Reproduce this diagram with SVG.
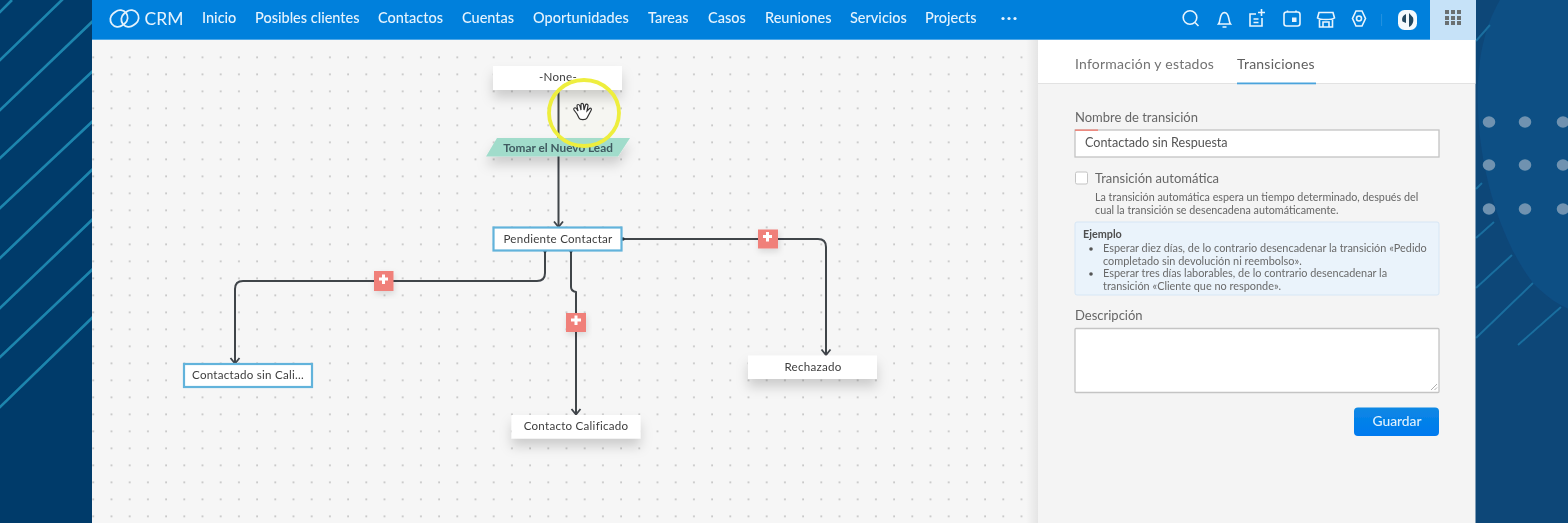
<svg xmlns="http://www.w3.org/2000/svg" width="1568" height="523" viewBox="0 0 1568 523">
<style>
text{font-family:"Lato","Liberation Sans",sans-serif}
.nav{font-size:14.5px;fill:#e6f3fd;font-weight:500}
.node{fill:#fff}
.sel{fill:#fff;stroke:#62b3db;stroke-width:2.2}
.nt{font-size:11.6px;fill:#3d3d3d;text-anchor:middle;letter-spacing:.25px}
.conn{fill:none;stroke:#3f444a;stroke-width:2;stroke-linejoin:round}
.add{fill:#f0807a}
.plus{fill:none;stroke:#fff;stroke-width:3}
.ic{fill:none;stroke:#e8f4fd;stroke-width:1.6}
.lbl{font-size:13px;fill:#666}
.help{font-size:10.75px;fill:#666}
.ex{font-size:10.9px;fill:#6a6a6a}
.fld{fill:#fff;stroke:#c4c4c4;stroke-width:1.3}
.st{stroke:#1f86ae;stroke-width:2.6;fill:none}
.st2{stroke:#1a6e9e;stroke-width:2;fill:none}
.rd{fill:#6f92b0}
</style>
<defs>
<pattern id="dots" width="18.2" height="17" patternUnits="userSpaceOnUse" patternTransform="translate(1.3 5.3)">
<circle cx="1" cy="1" r=".85" fill="#a8a8a8"/>
</pattern>
<filter id="soft" x="-2%" y="-5%" width="104%" height="110%"><feGaussianBlur stdDeviation=".5"/></filter>
<filter id="sh" x="-20%" y="-60%" width="140%" height="300%"><feDropShadow dx="0" dy="8" stdDeviation="6" flood-color="#000" flood-opacity=".17"/></filter>
<filter id="sh2" x="-30%" y="-30%" width="160%" height="170%"><feDropShadow dx="1" dy="3" stdDeviation="3" flood-color="#000" flood-opacity=".13"/></filter>
<linearGradient id="btn" x1="0" y1="0" x2="0" y2="1"><stop offset="0" stop-color="#0a88e4"/><stop offset="1" stop-color="#0079ef"/></linearGradient>
<linearGradient id="edge" x1="0" y1="0" x2="1" y2="0"><stop offset="0" stop-color="#000" stop-opacity="0"/><stop offset="1" stop-color="#000" stop-opacity=".07"/></linearGradient>
<marker id="arr" markerWidth="12" markerHeight="12" refX="8" refY="6" orient="auto" markerUnits="userSpaceOnUse" viewBox="0 0 12 12"><path d="M2.500 1.500L8 6L2.500 10.500" fill="none" stroke="#3f444a" stroke-width="1.800"/></marker>
</defs>
<g filter="url(#soft)">
<rect x="-20" y="-20" width="1608" height="563" fill="#043a6b"/>
<g id="left-stripes">
<path class="st" d="M-3 15L12 0M-3 63L65 -3M-3 113L95 19M-3 161L95 69M-3 211L95 119M-3 261L95 167M-3 311L95 217M-3 360L95 267M-3 410L95 315"/>
</g>
<g id="right-bg">
<rect x="1475" y="-20" width="113" height="563" fill="#0a4678"/>
<path d="M1500 -20V0C1482 30 1476 70 1478 110C1480 170 1500 240 1533 283C1545 295 1555 305 1590 318V-20Z" fill="#0a4f84"/>
<path class="st2" d="M1476 41L1490 25M1476 189L1482 183M1476 238L1494 222M1476 288L1512 255M1476 338L1533 283M1518 345L1561 307"/>
<ellipse class="rd" cx="1489" cy="122" rx="6.300" ry="5.700"/><ellipse class="rd" cx="1525" cy="122" rx="6.300" ry="5.700"/><ellipse class="rd" cx="1563" cy="122" rx="6.300" ry="5.700"/>
<ellipse class="rd" cx="1489" cy="165" rx="6.300" ry="5.700"/><ellipse class="rd" cx="1525" cy="165" rx="6.300" ry="5.700"/><ellipse class="rd" cx="1563" cy="165" rx="6.300" ry="5.700"/>
<ellipse class="rd" cx="1489" cy="209" rx="6.300" ry="5.700"/><ellipse class="rd" cx="1525" cy="209" rx="6.300" ry="5.700"/><ellipse class="rd" cx="1563" cy="209" rx="6.300" ry="5.700"/>
</g>
<g id="canvas">
<rect x="92" y="40" width="946" height="503" fill="#f6f6f6"/>
<rect x="92" y="50" width="946" height="468" fill="url(#dots)"/>
<rect x="1026" y="40" width="12" height="503" fill="url(#edge)"/>
</g>
<g id="side-panel">
<rect x="1038" y="40" width="437.500" height="503" fill="#f4f4f4"/>
<rect x="1038" y="40" width="437.500" height="43" fill="#fff"/>
<rect x="1038" y="83" width="437.500" height="1" fill="#e2e2e2"/>
<text x="1075" y="69" font-size="14" fill="#737373" letter-spacing=".22">Información y estados</text>
<text x="1237" y="69" font-size="14" fill="#5f5f5f" letter-spacing=".22">Transiciones</text>
<rect x="1237" y="82.500" width="79" height="1.800" fill="#4aa3dc"/>
<text class="lbl" x="1075" y="121.500">Nombre de transición</text>
<rect class="fld" x="1075" y="130" width="364" height="27"/>
<rect x="1075" y="129.500" width="23" height="1.300" fill="#f0776a"/>
<text x="1085" y="147" font-size="12.600" fill="#555">Contactado sin Respuesta</text>
<rect x="1075.500" y="172" width="12" height="12" rx="1.500" fill="#fff" stroke="#c4c4c4"/>
<text class="lbl" x="1095" y="183">Transición automática</text>
<text class="help" x="1095" y="201">La transición automática espera un tiempo determinado, después del</text>
<text class="help" x="1095" y="214">cual la transición se desencadena automáticamente.</text>
<rect x="1075" y="222" width="364" height="73" rx="2" fill="#eaf3fb" stroke="#d6e6f5"/>
<text x="1083" y="238" font-size="10.800" font-weight="700" fill="#4f4f4f">Ejemplo</text>
<circle cx="1091" cy="249" r="1.800" fill="#555"/>
<text class="ex" x="1103" y="252">Esperar diez días, de lo contrario desencadenar la transición «Pedido</text>
<text class="ex" x="1103" y="264.500">completado sin devolución ni reembolso».</text>
<circle cx="1091" cy="274" r="1.800" fill="#555"/>
<text class="ex" x="1103" y="277">Esperar tres días laborables, de lo contrario desencadenar la</text>
<text class="ex" x="1103" y="289.500">transición «Cliente que no responde».</text>
<text class="lbl" x="1075" y="320">Descripción</text>
<rect class="fld" x="1075" y="328.500" width="364" height="64" rx="1"/>
<path d="M1431 390L1437 384M1434.500 390L1437 387.500" stroke="#999" stroke-width=".8" fill="none"/>
<rect x="1354" y="407.500" width="85" height="28.500" rx="4" fill="url(#btn)"/>
<text x="1397" y="426" font-size="13.800" fill="#dff0fd" text-anchor="middle" font-weight="500">Guardar</text>
</g>
<g id="header">
<rect x="92" y="-20" width="1384" height="60" fill="#0180dc"/>
<rect x="1430" y="-20" width="46" height="60" fill="#c6e2f8"/>
<rect x="92" y="39" width="1338" height="1" fill="#4ea6e6"/>
<g id="logo" fill="none" stroke="#e2f1fc" stroke-width="1.800"><rect x="110" y="11" width="18" height="15" rx="7.500" transform="rotate(-38 119 18.500)"/><rect x="121" y="11" width="18" height="15" rx="7.500" transform="rotate(-38 130 18.500)"/></g>
<text x="144.500" y="24.500" font-size="17.500" fill="#e6f3fd">CRM</text>
<text class="nav" x="202" y="23">Inicio</text>
<text class="nav" x="255" y="23">Posibles clientes</text>
<text class="nav" x="378" y="23">Contactos</text>
<text class="nav" x="462" y="23">Cuentas</text>
<text class="nav" x="533" y="23">Oportunidades</text>
<text class="nav" x="648" y="23">Tareas</text>
<text class="nav" x="708" y="23">Casos</text>
<text class="nav" x="765" y="23">Reuniones</text>
<text class="nav" x="850" y="23">Servicios</text>
<text class="nav" x="925" y="23">Projects</text>
<g fill="#e6f3fd"><circle cx="1003" cy="18.500" r="1.600"/><circle cx="1009" cy="18.500" r="1.600"/><circle cx="1015" cy="18.500" r="1.600"/></g>
<circle class="ic" cx="1190" cy="17.500" r="6.800"/><path class="ic" d="M1195 22.500L1198.500 26"/>
<path class="ic" d="M1218.500 24C1221 21 1219 13 1224.500 12.500C1230 13 1228 21 1230.500 24ZM1222.500 27H1226.500"/>
<path class="ic" d="M1256 14H1250V26H1262V18M1253.500 19H1258.500M1253.500 22.500H1258.500M1258 12.500H1265M1261.500 9V16"/>
<rect class="ic" x="1284" y="12" width="16" height="14" rx="2.500"/><rect x="1292" y="17.500" width="4.500" height="4.500" fill="#e8f4fd"/><path class="ic" d="M1287.500 10.500V12M1296 10.500V12"/>
<path class="ic" d="M1319 12.500H1333L1334.500 18C1332 20 1320 20 1317.500 18ZM1319.500 19V27H1332.500V19M1323 27V22H1329V27"/>
<path class="ic" d="M1356 11L1362 11L1365.500 18.500L1362 26H1356L1352.500 18.500Z"/><circle class="ic" cx="1359" cy="18.500" r="2.500"/>
<rect x="1381.300" y="14" width=".8" height="12" fill="#2f98e2"/>
<rect x="1398" y="10" width="19" height="20" rx="6.500" fill="#f4f9fd"/>
<path d="M1406 14C1402.500 15.500 1401.500 18.500 1402.500 21.500L1406 23ZM1409 13V27C1413 25 1414 21 1413 17.500Z" fill="#24475f"/>
<g fill="#6a6f72"><rect x="1445" y="10" width="4" height="4"/><rect x="1451" y="10" width="4" height="4"/><rect x="1457" y="10" width="4" height="4"/><rect x="1445" y="16" width="4" height="4"/><rect x="1451" y="16" width="4" height="4"/><rect x="1457" y="16" width="4" height="4"/><rect x="1445" y="21" width="4" height="4"/><rect x="1451" y="21" width="4" height="4"/><rect x="1457" y="21" width="4" height="4"/></g>
</g>
<g id="connectors">
<path class="conn" marker-end="url(#arr)" d="M558.500 90V227"/>
<path class="conn" marker-end="url(#arr)" d="M545 251V273Q545 281 537 281H243Q235 281 235 289V363.500"/>
<path class="conn" marker-end="url(#arr)" d="M571 251V287Q571 291 576 292V414.500"/>
<path class="conn" marker-end="url(#arr)" d="M623 239H818Q826 239 826 247V355"/>
<circle cx="558.500" cy="90" r="1.700" fill="#22303c"/>
<circle cx="545" cy="251" r="1.700" fill="#22303c"/>
<circle cx="571" cy="251" r="1.700" fill="#22303c"/>
<circle cx="623" cy="239" r="1.700" fill="#22303c"/>
</g>
<g id="add-1" filter="url(#sh2)"><rect class="add" x="374" y="271" width="19.500" height="20"/><path class="plus" d="M383.500 274.500V284M379 279H388"/></g>
<g id="add-2" filter="url(#sh2)"><rect class="add" x="566" y="313" width="20" height="19"/><path class="plus" d="M576 315.500V325M571 320H581"/></g>
<g id="add-3" filter="url(#sh2)"><rect class="add" x="758" y="229.500" width="20" height="19"/><path class="plus" d="M767.500 232V241.500M763 236.500H772"/></g>
<g id="node-none"><rect class="node" filter="url(#sh)" x="493" y="66" width="129" height="24"/><text class="nt" x="558" y="81">-None-</text></g>
<g id="node-tomar"><path filter="url(#sh)" d="M497 138H630L618 156.500H486Z" fill="#a1dccb"/><text x="558" y="152" font-size="11.800" font-weight="700" fill="#3f5a60" text-anchor="middle">Tomar el Nuevo Lead</text></g>
<g id="node-pendiente"><rect class="sel" x="493.500" y="227.500" width="128" height="23"/><text class="nt" x="558" y="243">Pendiente Contactar</text></g>
<g id="node-contactado"><rect class="sel" x="184" y="364" width="128" height="23"/><text class="nt" x="248" y="379">Contactado sin Cali...</text></g>
<g id="node-rechazado"><rect class="node" filter="url(#sh)" x="748" y="355.500" width="129" height="23.500"/><text class="nt" x="813" y="371">Rechazado</text></g>
<g id="node-calificado"><rect class="node" filter="url(#sh)" x="511.500" y="415" width="129" height="23.500"/><text class="nt" x="576" y="430">Contacto Calificado</text></g>
<g id="cursor">
<ellipse cx="584" cy="113" rx="35" ry="33" fill="#fff59a" fill-opacity=".04" stroke="#eeee3c" stroke-width="3.800"/>
<path d="M577 114L574 110C573 108 575 107 576.500 108.500L578 111L577 106C577 104 579 104 580 106L581 110V104.500C581 103 583 103 583.500 104.500L584 110L585.500 105C586 103.500 588 104 588 105.500L587 111L589.500 108.500C591 107.500 592 109 591 110.500L587 118C586 120 580 120.500 579 118Z" fill="#fff" stroke="#333" stroke-width="1.200"/>
</g>
</g>
</svg>
